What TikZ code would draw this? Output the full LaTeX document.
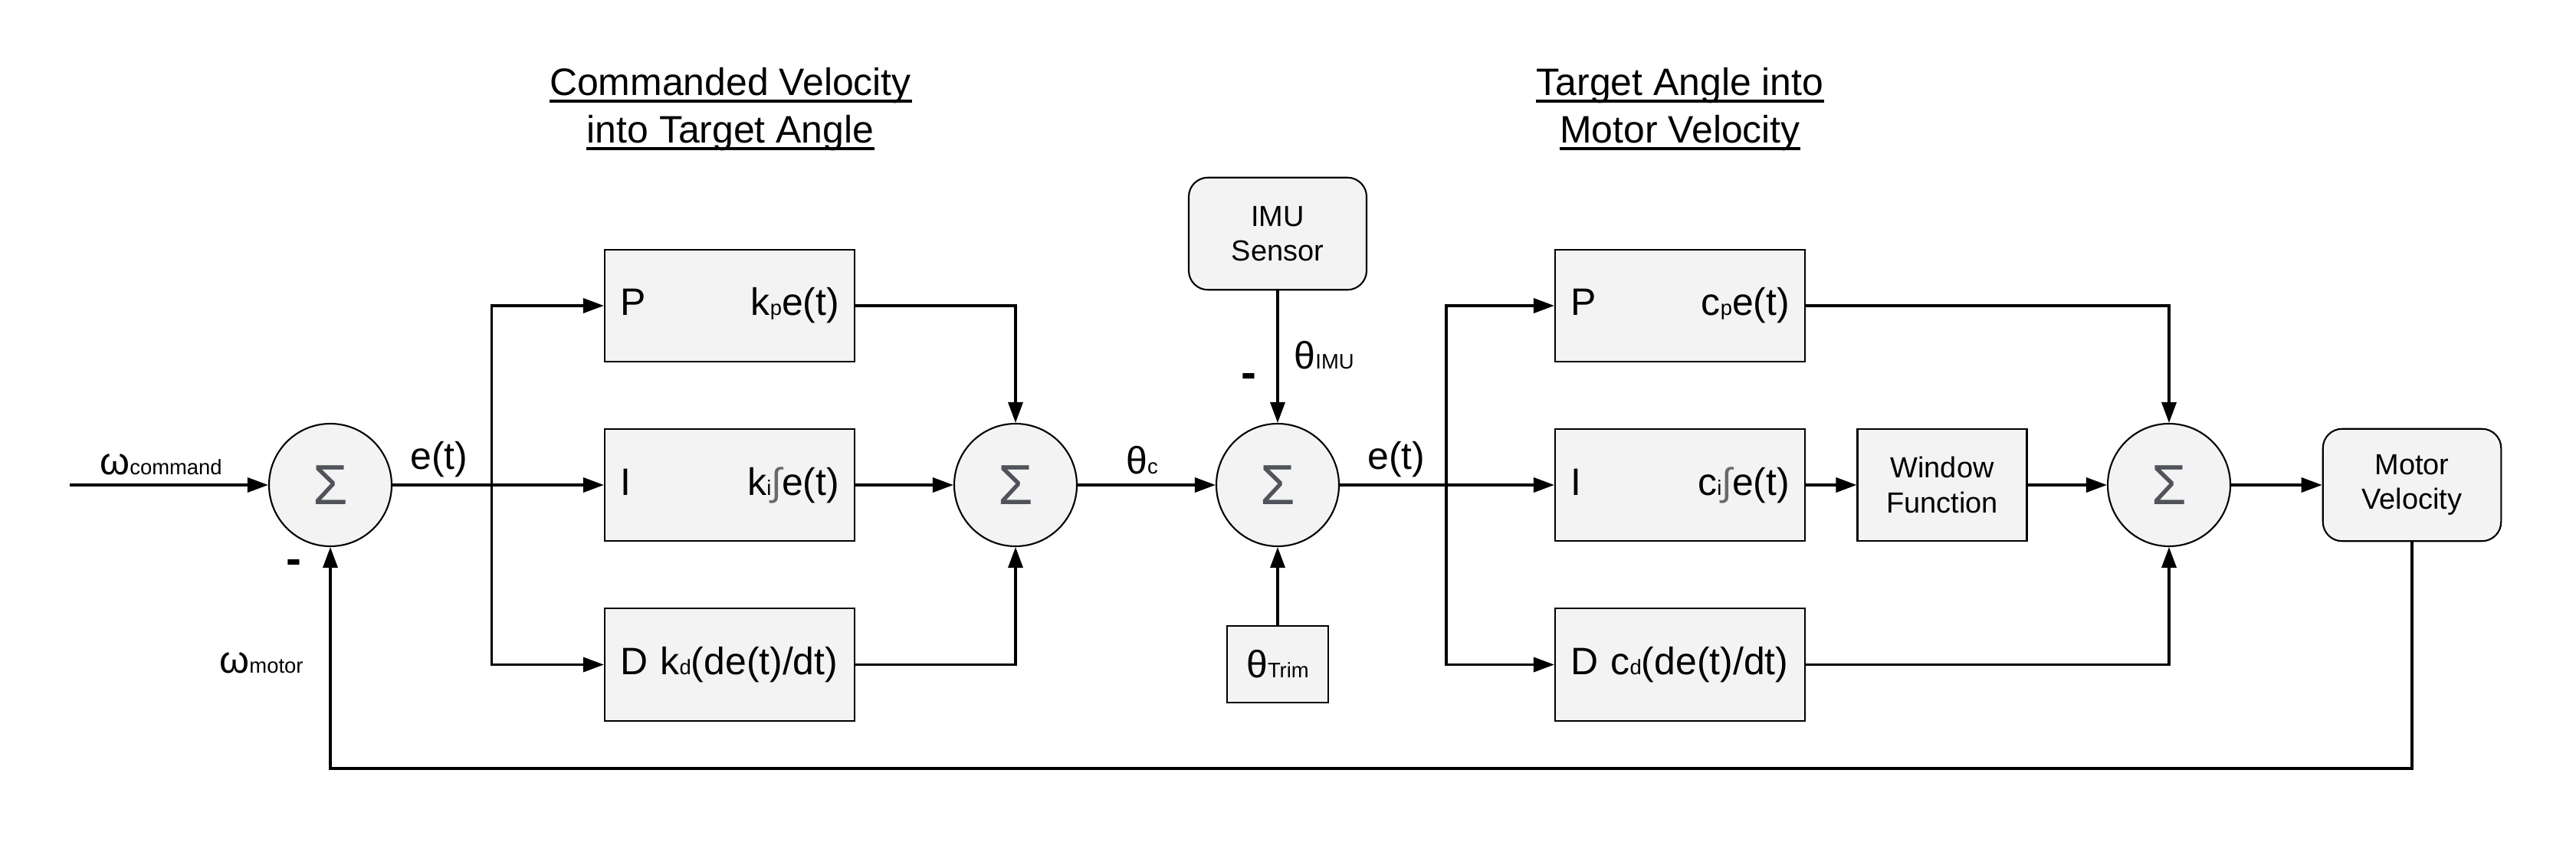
\documentclass[tikz,border=0pt]{standalone}
\usepackage{fontspec}
\setmainfont{Liberation Sans}
\usetikzlibrary{arrows.meta,positioning}
\definecolor{blockgray}{RGB}{243,243,243}
\definecolor{sigmagray}{RGB}{80,84,90}
\definecolor{intgray}{RGB}{105,105,105}
\newcommand{\tagtxt}[1]{{\fontsize{7.8pt}{8pt}\selectfont #1}}
\newcommand{\intsign}{{\color{intgray}∫}}

\begin{document}
\begin{tikzpicture}[
    font=\fontsize{14.2pt}{17pt}\selectfont,
    line/.style={line width=1pt},
    arr/.style={line, -{Triangle[length=2.7mm,width=1.9mm]}},
    sumnode/.style={circle, draw, line width=0.6pt, fill=blockgray, minimum size=1.6cm, inner sep=0pt, text=sigmagray, font=\fontsize{21pt}{21pt}\selectfont},
    pidbox/.style={draw, line width=0.6pt, fill=blockgray, minimum width=3.26cm, minimum height=1.465cm, text width=2.86cm, align=left, inner sep=0pt},
    smallbox/.style={draw, line width=0.6pt, fill=blockgray, minimum height=1.465cm, align=center, inner sep=0pt, font=\fontsize{10.8pt}{13pt}\selectfont},
    roundbox/.style={smallbox, rounded corners=0.25cm},
    title/.style={inner sep=0pt, anchor=base},
    lbl/.style={inner sep=0pt, anchor=base},
    minus/.style={inner sep=0pt, font=\bfseries\fontsize{17pt}{17pt}\selectfont}
  ]
      \useasboundingbox (0,0) rectangle (33.61,11.28);

      % Titles
      \node[title] (t1a) at (9.53,10.03) {Commanded Velocity};
      \node[title] (t1b) at (9.53,9.41) {into Target Angle};
      \node[title] (t2a) at (21.92,10.03) {Target Angle into};
      \node[title] (t2b) at (21.92,9.41) {Motor Velocity};
      \foreach \t in {t1a,t1b,t2a,t2b}
        \draw[line] ([yshift=-0.7mm]\t.base west) -- ([yshift=-0.7mm]\t.base east);

      % Velocity loop: sum and PID
      \coordinate (cin) at (0.91,4.95);
      \node[sumnode] (s1) at (4.31,4.95) {Σ};
      \coordinate (br1) at (6.415,4.95);
      \node[pidbox] (p1) at (9.52,7.29) {P\hfill k\tagtxt{p}e(t)\hspace*{1mm}};
      \node[pidbox] (i1) at (9.52,4.95) {I\hfill k\tagtxt{i}\intsign e(t)\hspace*{1mm}};
      \node[pidbox] (d1) at (9.52,2.605) {D k\tagtxt{d}(de(t)/dt)};
      \node[sumnode] (s2) at (13.25,4.95) {Σ};

      % Angle error
      \node[sumnode] (s3) at (16.67,4.95) {Σ};
      \node[roundbox, minimum width=2.32cm] (imu) at (16.67,8.23) {IMU\\Sensor};
      \node[smallbox, minimum width=1.32cm, minimum height=1cm, font=\fontsize{14.2pt}{17pt}\selectfont] (trim) at (16.67,2.61) {θ\tagtxt{Trim}};

      % Angle loop: PID, window and motor
      \coordinate (br2) at (18.87,4.95);
      \node[pidbox] (p2) at (21.92,7.29) {P\hfill c\tagtxt{p}e(t)\hspace*{1mm}};
      \node[pidbox] (i2) at (21.92,4.95) {I\hfill c\tagtxt{i}\intsign e(t)\hspace*{1mm}};
      \node[pidbox] (d2) at (21.92,2.605) {D c\tagtxt{d}(de(t)/dt)};
      \node[smallbox, minimum width=2.21cm] (win) at (25.34,4.95) {Window\\Function};
      \node[sumnode] (s4) at (28.30,4.95) {Σ};
      \node[roundbox, minimum width=2.325cm] (mv) at (31.47,4.95) {Motor\\Velocity};
      \coordinate (fb) at (4.31,1.25);

      % Signal labels
      \node[lbl] (lwcmd) at (2.10,5.09) {ω\tagtxt{command}};
      \node[lbl] (le1) at (5.73,5.16) {e(t)};
      \node[lbl] (lwmot) at (3.41,2.50) {ω\tagtxt{motor}};
      \node[lbl] (lthc) at (14.90,5.10) {θ\tagtxt{c}};
      \node[lbl] (le2) at (18.22,5.16) {e(t)};
      \node[lbl, anchor=base west] (lthimu) at (16.88,6.46) {θ\tagtxt{IMU}};
      \node[minus] (neg1) at (3.83,3.88) {-};
      \node[minus] (neg2) at (16.29,6.31) {-};

      % Connections
      \draw[arr] (cin) -- (s1.west);
      \draw[line] (s1.east) -- (br1);
      \draw[arr] (br1) |- (p1.west);
      \draw[arr] (br1) -- (i1.west);
      \draw[arr] (br1) |- (d1.west);
      \draw[arr] (p1.east) -| (s2.north);
      \draw[arr] (i1.east) -- (s2.west);
      \draw[arr] (d1.east) -| (s2.south);
      \draw[arr] (s2.east) -- (s3.west);
      \draw[arr] (imu.south) -- (s3.north);
      \draw[arr] (trim.north) -- (s3.south);
      \draw[line] (s3.east) -- (br2);
      \draw[arr] (br2) |- (p2.west);
      \draw[arr] (br2) -- (i2.west);
      \draw[arr] (br2) |- (d2.west);
      \draw[arr] (p2.east) -| (s4.north);
      \draw[arr] (i2.east) -- (win.west);
      \draw[arr] (win.east) -- (s4.west);
      \draw[arr] (d2.east) -| (s4.south);
      \draw[arr] (s4.east) -- (mv.west);
      \draw[arr] (mv.south) |- (fb) -- (s1.south);
\end{tikzpicture}
\end{document}
